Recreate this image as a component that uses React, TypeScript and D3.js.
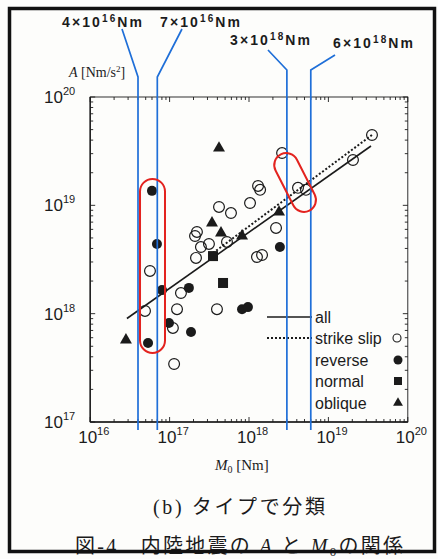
import React from "react";
import * as d3 from "d3";

// ---- data (M0 [Nm], A [Nm/s^2]) ----
const strikeM0 = [3.54e19, 2.04e19, 2.61e18, 4.14e18, 5.22e18, 1.30e18, 1.38e18, 1.03e18, 4.19e17, 5.93e17, 2.21e17, 2.09e17, 2.48e17, 3.13e17, 2.15e17, 5.28e17, 2.19e18, 1.26e18, 1.46e18, 5.66e16, 1.39e17, 4.90e16, 1.24e17, 3.95e17, 1.10e17, 1.14e17];
const strikeA = [4.46e19, 2.62e19, 3.04e19, 1.45e19, 1.39e19, 1.51e19, 1.39e19, 1.05e19, 9.66e18, 8.49e18, 5.68e18, 5.21e18, 4.12e18, 4.40e18, 3.27e18, 4.59e18, 6.18e18, 3.33e18, 3.48e18, 2.48e18, 1.55e18, 1.06e18, 1.10e18, 1.10e18, 7.38e17, 3.43e17];
const reverseM0 = [6.00e16, 6.93e16, 8.02e16, 1.75e17, 8.17e17, 9.70e17, 9.82e16, 1.86e17, 5.35e16, 2.45e18];
const reverseA = [1.36e19, 4.40e18, 1.65e18, 1.73e18, 1.10e18, 1.15e18, 8.20e17, 6.78e17, 5.36e17, 4.12e18];
const normalM0 = [3.52e17, 4.71e17];
const normalA = [3.40e18, 1.92e18];
const obliqueM0 = [4.19e17, 3.42e17, 4.44e17, 8.17e17, 2.39e18, 2.82e16];
const obliqueA = [3.38e19, 6.87e18, 5.56e18, 5.21e18, 8.67e18, 5.71e17];

const fitAllM0 = [2.9e16, 3.44e19];
const fitAllA = [9.02e17, 3.53e19];
const fitStrikeM0 = [3.52e17, 3.55e19];
const fitStrikeA = [3.63e18, 4.47e19];

const markM0 = [4e16, 7e16, 3e18, 6e18];
const markMant = ["4", "7", "3", "6"];
const markExp = ["16", "16", "18", "18"];

const xTicks = [1e16, 1e17, 1e18, 1e19, 1e20];
const xTickExp = ["16", "17", "18", "19", "20"];
const yTicks = [1e17, 1e18, 1e19, 1e20];
const yTickExp = ["17", "18", "19", "20"];

const legendLabels = ["all", "strike slip", "reverse", "normal", "oblique"];

const W = 438, H = 559;
const L = 90.2, R = 407.8, T = 97, B = 422;
const INK = "#1b1b1b";
const BLUE = "#1f6fd8";
const RED = "#e3231f";
const SANS = "'Liberation Sans', Arial, sans-serif";
const SERIF = "'Liberation Serif', 'Times New Roman', serif";
const CJK = "'Liberation Serif', 'Noto Sans CJK JP', serif";

export default function App() {
  const x = d3.scaleLog().domain([1e16, 1e20]).range([L, R]);
  const y = d3.scaleLog().domain([1e17, 1e20]).range([B, T]);

  const minorX: number[] = [];
  for (let e = 16; e < 20; e++) for (let m = 2; m <= 9; m++) minorX.push(m * Math.pow(10, e));
  const minorY: number[] = [];
  for (let e = 17; e < 20; e++) for (let m = 2; m <= 9; m++) minorY.push(m * Math.pow(10, e));

  const line = d3.line<[number, number]>().x((d) => x(d[0])).y((d) => y(d[1]));
  const allPts: [number, number][] = fitAllM0.map((m, i) => [m, fitAllA[i]]);
  const ssPts: [number, number][] = fitStrikeM0.map((m, i) => [m, fitStrikeA[i]]);

  const tri = d3.symbol().type(d3.symbolTriangle).size(62)() as string;
  const triLeg = d3.symbol().type(d3.symbolTriangle).size(42)() as string;

  // annotation layout (label positions, bends)
  const markLabelX = [62, 160, 230, 333];
  const markLabelY = [27, 27, 45, 48];
  const markStart = [[122, 29], [182, 29], [268, 50], [335, 55]];
  const markBendY = [77, 77, 70, 70];

  const legX0 = 267, legX1 = 312, legTextX = 315, legSymX = 398;
  const legY = [317, 338, 360, 381, 403];

  return (
    <svg width={W} height={H} style={{ position: "absolute", left: 0, top: 0, background: "#fdfdfb" }}>
      <rect x={0} y={0} width={W} height={H} fill="#fdfdfb" />
      {/* plot frame */}
      <rect x={L} y={T} width={R - L} height={B - T} fill="none" stroke={INK} strokeWidth={0.9} />
      <line x1={L} y1={T} x2={L} y2={B} stroke={INK} strokeWidth={1.4} />
      <line x1={L} y1={B} x2={R} y2={B} stroke={INK} strokeWidth={1.4} />
      {/* ticks */}
      <g stroke={INK} strokeWidth={0.9}>
        {xTicks.map((t, i) => (
          <g key={"xt" + i}>
            <line x1={x(t)} x2={x(t)} y1={B} y2={B - 5} />
            <line x1={x(t)} x2={x(t)} y1={T} y2={T + 5} />
          </g>
        ))}
        {minorX.map((t, i) => (
          <g key={"xm" + i}>
            <line x1={x(t)} x2={x(t)} y1={B} y2={B - 3} />
            <line x1={x(t)} x2={x(t)} y1={T} y2={T + 3} />
          </g>
        ))}
        {yTicks.map((t, i) => (
          <g key={"yt" + i}>
            <line x1={L} x2={L + 5} y1={y(t)} y2={y(t)} />
            <line x1={R} x2={R - 5} y1={y(t)} y2={y(t)} />
          </g>
        ))}
        {minorY.map((t, i) => (
          <g key={"ym" + i}>
            <line x1={L} x2={L + 3} y1={y(t)} y2={y(t)} />
            <line x1={R} x2={R - 3} y1={y(t)} y2={y(t)} />
          </g>
        ))}
      </g>
      {/* tick labels */}
      {xTicks.map((t, i) => (
        <text key={"xl" + i} x={x(t) - 12} y={443} fontFamily={SANS} fontSize={17} fill={INK}>
          10<tspan dy={-8} fontSize={11}>{xTickExp[i]}</tspan>
        </text>
      ))}
      {yTicks.map((t, i) => (
        <text key={"yl" + i} x={44} y={y(t) + 6} fontFamily={SANS} fontSize={17} fill={INK}>
          10<tspan dy={-8} fontSize={11}>{yTickExp[i]}</tspan>
        </text>
      ))}
      {/* axis titles */}
      <text x={69} y={77} fontFamily={SERIF} fontSize={14} fill={INK}>
        <tspan fontStyle="italic">A</tspan> [Nm/s<tspan dy={-5} fontSize={9}>2</tspan><tspan dy={5}>]</tspan>
      </text>
      <text x={215} y={470} fontFamily={SERIF} fontSize={15} fill={INK}>
        <tspan fontStyle="italic">M</tspan><tspan dy={3} fontSize={10}>0</tspan><tspan dy={-3}> [Nm]</tspan>
      </text>

      {/* fit lines */}
      <path d={line(allPts) || ""} fill="none" stroke={INK} strokeWidth={1.6} />
      <path d={line(ssPts) || ""} fill="none" stroke={INK} strokeWidth={2} strokeDasharray="2,2" />

      {/* points */}
      {strikeM0.map((m, i) => (
        <circle key={"s" + i} cx={x(m)} cy={y(strikeA[i])} r={5.4} fill="none" stroke={INK} strokeWidth={1.2} />
      ))}
      {reverseM0.map((m, i) => (
        <circle key={"r" + i} cx={x(m)} cy={y(reverseA[i])} r={5} fill={INK} />
      ))}
      {normalM0.map((m, i) => (
        <rect key={"n" + i} x={x(m) - 5} y={y(normalA[i]) - 5} width={10} height={10} fill={INK} />
      ))}
      {obliqueM0.map((m, i) => (
        <path key={"o" + i} d={tri} transform={`translate(${x(m)},${y(obliqueA[i])})`} fill={INK} />
      ))}

      {/* legend */}
      <line x1={legX0} x2={legX1} y1={legY[0]} y2={legY[0]} stroke={INK} strokeWidth={1.6} />
      <line x1={legX0} x2={legX1} y1={legY[1]} y2={legY[1]} stroke={INK} strokeWidth={2} strokeDasharray="2,2" />
      {legendLabels.map((lab, i) => (
        <text key={"lg" + i} x={legTextX} y={legY[i] + 6} fontFamily={SANS} fontSize={16} fill={INK}>{lab}</text>
      ))}
      <circle cx={legSymX - 1} cy={legY[1]} r={4} fill="none" stroke={INK} strokeWidth={1.1} />
      <circle cx={legSymX} cy={legY[2]} r={4.5} fill={INK} />
      <rect x={legSymX - 4} y={legY[3] - 4} width={8} height={8} fill={INK} />
      <path d={triLeg} transform={`translate(${legSymX},${legY[4]})`} fill={INK} />

      {/* blue marker lines */}
      {markM0.map((m, i) => (
        <g key={"bl" + i}>
          <polyline
            points={`${markStart[i][0]},${markStart[i][1]} ${x(m)},${markBendY[i]} ${x(m)},430`}
            fill="none"
            stroke={BLUE}
            strokeWidth={1.7}
          />
          <text x={markLabelX[i]} y={markLabelY[i]} fontFamily={SANS} fontSize={14} fontWeight={700} fill={INK} textLength={80} lengthAdjust="spacing">
            {markMant[i]}×10<tspan dy={-5} fontSize={10}>{markExp[i]}</tspan><tspan dy={5}>Nm</tspan>
          </text>
        </g>
      ))}

      {/* red highlight capsules */}
      <rect x={x(4.24e16)} y={y(1.75e19)} width={x(8.75e16) - x(4.24e16)} height={y(4.34e17) - y(1.75e19)} rx={12.5} fill="none" stroke={RED} strokeWidth={2} />
      <rect x={-12} y={-31.5} width={24} height={63} rx={12} fill="none" stroke={RED} strokeWidth={2}
        transform={`translate(${(x(2.9e18) + x(5.0e18)) / 2},${(y(2.4e19) + y(1.1e19)) / 2}) rotate(-27)`} />

      {/* captions */}
      <text x={153} y={514} fontFamily={CJK} fontSize={20} fill={INK} textLength={172} lengthAdjust="spacing">
        (b) タイプで分類
      </text>
      <text x={75} y={553} fontFamily={CJK} fontSize={20} fill={INK} textLength={328} lengthAdjust="spacing">
        図-4　内陸地震の <tspan fontStyle="italic">A</tspan> と <tspan fontStyle="italic">M</tspan><tspan dy={3} fontSize={13}>0</tspan><tspan dy={-3}>の関係</tspan>
      </text>

      {/* outer border */}
      <rect x={9.5} y={8.5} width={425} height={543} fill="none" stroke="#111" strokeWidth={3.5} />
    </svg>
  );
}
